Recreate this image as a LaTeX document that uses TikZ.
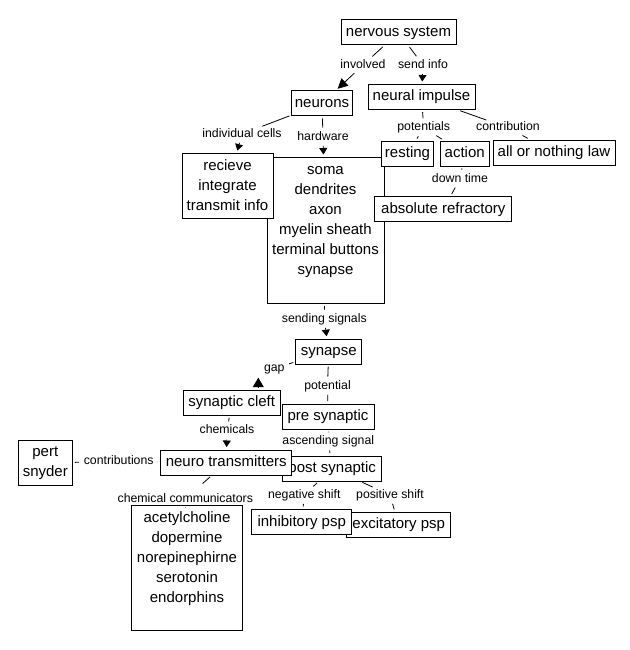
\documentclass[tikz,border=0pt]{standalone}
\usepackage{fontspec}
\setmainfont{Liberation Sans}
\usetikzlibrary{arrows.meta}
\newcommand\mlines[1]{\begin{tabular}{@{}c@{}}#1\end{tabular}}
\begin{document}
\begin{tikzpicture}[x=1pt,y=-1pt,
  box/.style={draw, line width=1pt, fill=white, font=\fontsize{15}{20}\selectfont, inner xsep=3pt, inner ysep=2.5pt, text height=14pt, text depth=6pt},
  mbox/.style={draw, line width=1pt, fill=white, font=\fontsize{15}{20}\selectfont, inner xsep=3pt, inner ysep=2.5pt},
  lab/.style={fill=white, font=\fontsize{12.3}{14}\selectfont, inner xsep=2pt, inner ysep=1pt, text height=8.8pt, text depth=2.5pt},
  conn/.style={line width=0.8pt, shorten <=2pt, shorten >=2.5pt},
  arr/.style={conn, -{Triangle[width=8pt,length=6.5pt]}},
  bigarr/.style={conn, -{Triangle[width=10pt,length=10pt]}},
  gaparr/.style={line width=0.8pt, -{Triangle[width=11pt,length=9.5pt]}, shorten <=3pt}]
\fill[white] (0,0) rectangle (629,650);
\useasboundingbox (0,0) rectangle (629,650);

% linking phrases
\node[lab] (l1) at (363,65) {involved};
\node[lab] (l2) at (423,65) {send info};
\node[lab] (l3) at (242,134) {individual cells};
\node[lab] (l4) at (323,137) {hardware};
\node[lab] (l5) at (423.7,127.7) {potentials};
\node[lab] (l6) at (508,127.7) {contribution};
\node[lab] (l7) at (460,179) {down time};
\node[lab] (l8) at (324.3,319) {sending signals};
\node[lab] (l9) at (274.3,368.3) {gap};
\node[lab] (l10) at (327.5,386) {potential};
\node[lab] (l11) at (227,430.7) {chemicals};
\node[lab] (l12) at (328.3,441.7) {ascending signal};
\node[lab] (l13) at (118.7,461.7) {contributions};
\node[lab] (l14) at (185.3,499) {chemical communicators};
\node[lab] (l15) at (304.3,495) {negative shift};
\node[lab] (l16) at (390,495) {positive shift};

% concepts
\node[box, minimum width=115pt] (ns) at (398.5,32.5) {nervous system};
\node[box, minimum width=60pt] (neu) at (322,103.5) {neurons};
\node[box, minimum width=107pt] (ni) at (421.5,97) {neural impulse};
\node[mbox, minimum width=117pt, anchor=north] (soma) at (325.5,157) {\mlines{soma\\dendrites\\axon\\myelin sheath\\terminal buttons\\synapse\\[21pt]}};
\node[mbox, minimum width=91pt] (rit) at (227.5,186) {\mlines{recieve\\integrate\\transmit info}};
\node[box, minimum width=52pt] (rest) at (407.5,153.7) {resting};
\node[box, minimum width=49pt] (act) at (464.7,153.5) {action};
\node[box, minimum width=122pt] (all) at (554,152.5) {all or nothing law};
\node[box, minimum width=137pt] (abs) at (443.3,209) {absolute refractory};
\node[box, minimum width=66pt] (syn) at (328.7,351.7) {synapse};
\node[box, minimum width=97pt] (cleft) at (231.7,402.8) {synaptic cleft};
\node[box, minimum width=92pt] (pre) at (328,416.7) {pre synaptic};
\node[box, minimum width=99pt] (post) at (332.2,468.5) {post synaptic};
\node[box, minimum width=131pt] (nt) at (226.2,462.5) {neuro transmitters};
\node[mbox, minimum width=54pt] (pert) at (45.3,462.8) {\mlines{pert\\snyder}};
\node[mbox, minimum width=111pt, anchor=north] (chem) at (187,505) {\mlines{acetylcholine\\dopermine\\norepinephirne\\serotonin\\endorphins\\[20pt]}};
\node[box, minimum width=104pt] (exc) at (398.7,524.8) {excitatory psp};
\node[box, minimum width=100pt] (inh) at (301.7,522) {inhibitory psp};

% connectors
\draw[conn] (ns) -- (l1);
\draw[bigarr] (l1) -- (neu);
\draw[conn] (ns) -- (l2);
\draw[arr] (l2) -- (ni);
\draw[conn] (neu) -- (l3);
\draw[arr] (l3) -- (rit);
\draw[conn] (neu) -- (l4);
\draw[arr] (l4) -- (soma);
\draw[conn] (ni) -- (l5);
\draw[conn] (l5) -- (rest);
\draw[conn] (l5) -- (act);
\draw[conn] (ni) -- (l6);
\draw[conn] (l6) -- (all);
\draw[conn] (act) -- (l7);
\draw[conn] (l7) -- (abs);
\draw[conn] (soma) -- (l8);
\draw[arr] (l8) -- (syn);
\draw[conn] (syn) -- (l9);
\coordinate (gtip) at (258.3,377.7);
\draw[gaparr] (cleft.north -| gtip) -- (gtip);
\draw[conn] (syn) -- (l10);
\draw[conn] (l10) -- (pre);
\draw[conn] (cleft) -- (l11);
\draw[arr] (l11) -- (nt);
\draw[conn] (pre) -- (l12);
\draw[conn] (l12) -- (post);
\draw[conn] (pert) -- (l13);
\draw[conn] (l13) -- (nt);
\draw[conn, shorten >=13pt] (nt) -- (l14);
\draw[conn] (l14) -- (chem);
\draw[conn] (post) -- (l15);
\draw[conn] (l15) -- (inh);
\draw[conn] (post) -- (l16);
\draw[conn] (l16) -- (exc);
\end{tikzpicture}
\end{document}
